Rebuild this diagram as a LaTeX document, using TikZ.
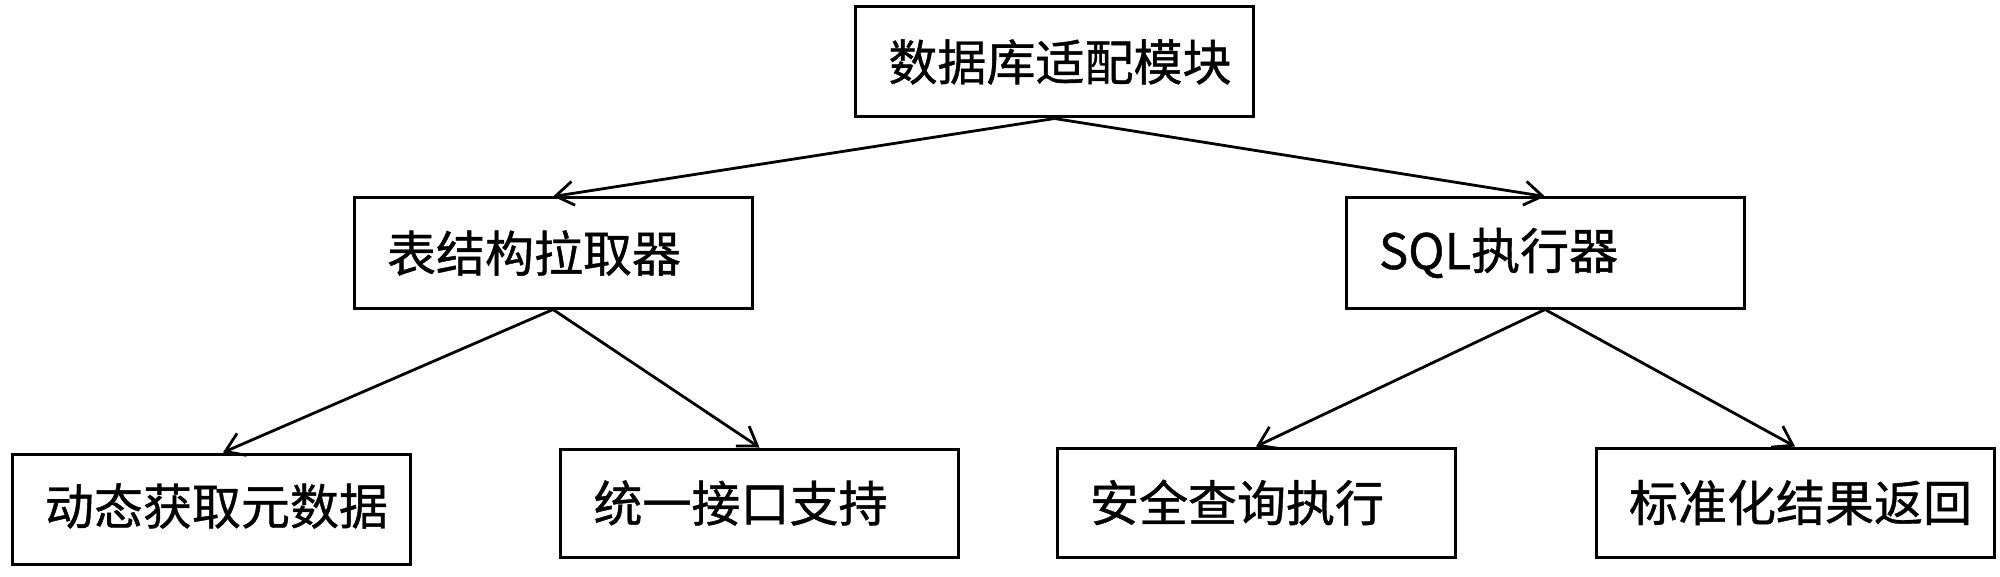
\documentclass[tikz,border=0pt]{standalone}
\usepackage{fontspec}
\setmainfont{Noto Sans CJK SC}[FakeBold=0.8]
\usetikzlibrary{arrows.meta}
\begin{document}
\begin{tikzpicture}[x=0.5pt,y=-0.5pt,
  box/.style={draw=black, line width=1.5pt, rectangle, inner xsep=16.5pt, inner ysep=0pt,
    text width=166pt, align=left, minimum height=55pt,
    font=\fontsize{24.5pt}{28pt}\selectfont},
  conn/.style={draw=black, line width=1.4pt, -{Straight Barb[length=9pt,width=12pt,line width=1.4pt]}}]
\useasboundingbox (0,0) rectangle (2000,577);
\node[box] (top) at (1054.5,62) {数据库适配模块};
\node[box] (tbl) at (553,253) {表结构拉取器};
\node[box] (sql) at (1545,253) {SQL执行器};
\node[box] (dong) at (211,509) {\raisebox{5pt}{动态获取元数据}};
\node[box, minimum height=54pt] (tong) at (759.5,503) {统一接口支持};
\node[box, minimum height=54.5pt] (anq) at (1256,502.5) {安全查询执行};
\node[box, minimum height=54.5pt] (biao) at (1795,502.5) {标准化结果返回};
\draw[conn] (top.south) -- (tbl.north);
\draw[conn] (top.south) -- (sql.north);
\draw[conn] (tbl.south) -- ([xshift=6pt]dong.north);
\draw[conn] (tbl.south) -- (tong.north);
\draw[conn] (sql.south) -- (anq.north);
\draw[conn] (sql.south) -- (biao.north);
\end{tikzpicture}
\end{document}
